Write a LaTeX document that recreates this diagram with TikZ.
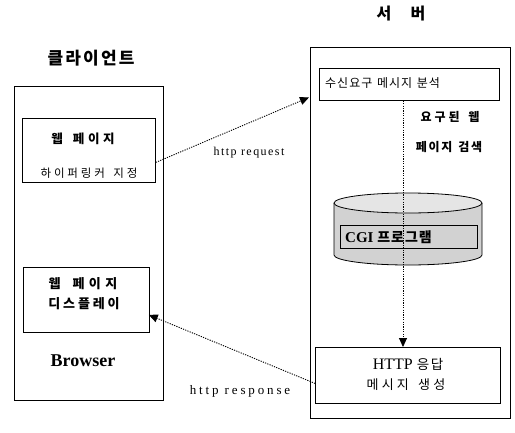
\documentclass[tikz,border=0pt]{standalone}
\usepackage{fontspec}
\setmainfont{Liberation Serif}
\newfontfamily\kr{Noto Sans CJK KR}
\usetikzlibrary{arrows.meta,calc}
\newdimen\spgap
\def\spc#1{\spcloop#1\relax\unkern}
\def\spcloop#1{\ifx#1\relax\else#1\kern\spgap\expandafter\spcloop\fi}
\newcommand{\ksz}[2]{\kr\fontsize{#1}{#1}\selectfont\spgap=#2pt\relax}
\begin{document}
\begin{tikzpicture}[x=1pt,y=-1pt,
  box/.style={draw,line width=0.8pt,anchor=north west,inner sep=0pt},
  txt/.style={inner sep=0pt},
  ktext/.style={inner sep=0pt},
  dotline/.style={line width=0.9pt,dash pattern=on 1.2pt off 1.2pt},
  arr/.style={-{Triangle[length=9pt,width=8pt]}}]
\useasboundingbox (0,0) rectangle (515,432);
% titles
\node[ktext,font=\ksz{17}{2.2}\bfseries] (tc) at (91,58) {\spc{클라이언트}};
\node[ktext,font=\ksz{16}{0}\bfseries] (ts) at (401,14) {서\hspace{1.2em}버};
% client
\node[box,minimum width=149pt,minimum height=314pt] (client) at (14,86) {};
\node[box,minimum width=133pt,minimum height=64pt] (box1) at (22,118) {};
\node[ktext,font=\ksz{12.5}{3.6}\bfseries] (b1a) at (83,139) {\spc{웹~페이지}};
\node[ktext,font=\ksz{11.5}{2.9}] (b1b) at (89,173) {\spc{하이퍼링커~지정}};
\node[box,minimum width=126pt,minimum height=65pt] (box2) at (23,267) {};
\node[ktext,font=\ksz{13}{4.5}\bfseries] (b2a) at (83,284) {\spc{웹~페이지}};
\node[ktext,font=\ksz{13}{2.9}\bfseries] (b2b) at (84,304) {\spc{디스플레이}};
\node[txt,font=\bfseries\fontsize{18}{20}\selectfont] (brw) at (83,361) {Browser};
% server
\node[box,minimum width=200pt,minimum height=371pt] (server) at (310,47) {};
\node[box,minimum width=180pt,minimum height=32pt] (recv) at (319,68) {};
\node[ktext,anchor=west,font=\ksz{12}{1}] (recvt) at (325,83) {\spc{수신요구~메시지~분석}};
\node[ktext,font=\ksz{12}{3}\bfseries] (q1) at (450,117) {\spc{요구된~웹}};
\node[ktext,font=\ksz{12}{1.7}\bfseries] (q2) at (449,147) {\spc{페이지~검색}};
% cylinder
\fill[gray!35] (334,203) -- (334,255) arc[start angle=180,end angle=360,x radius=74,y radius=-10] -- (482,203) arc[start angle=0,end angle=180,x radius=74,y radius=10] -- cycle;
\draw[line width=0.8pt] (334,203) -- (334,255) arc[start angle=180,end angle=360,x radius=74,y radius=-10] -- (482,203);
\draw[line width=0.8pt,fill=gray!20] (408,203) ellipse[x radius=74,y radius=10];
\node[box,minimum width=137pt,minimum height=23pt,fill=gray!35] (cgi) at (340,225) {};
\node[txt,anchor=west,font=\bfseries\fontsize{15}{16}\selectfont] (cgit) at (345,237) {CGI {\ksz{14}{1}\bfseries\spc{프로그램}}};
% http box
\node[box,minimum width=185pt,minimum height=56pt] (http) at (315,347) {};
\node[txt,font=\fontsize{16}{18}\selectfont] (h1) at (408,364) {HTTP {\ksz{13.5}{1.5}\spc{응답}}};
\node[ktext,font=\ksz{13}{3.2}] (h2) at (406,385) {\spc{메시지~생성}};
% vertical dashed
\coordinate (vx) at (403,0);
\draw[dotline,arr] (vx |- recv.south) -- (vx |- http.north);
% request
\coordinate (reqs) at ($(box1.east)+(0,12)$);
\coordinate (reqe) at ($(recv.west)+(-10,13)$);
\draw[dotline,arr] (reqs) -- (reqe);
\node[txt,font=\addfontfeatures{LetterSpace=12}\fontsize{12}{14}\selectfont] (lreq) at (249,153) {http request};
% response
\coordinate (ress) at ($(http.west)+(0,8)$);
\coordinate (rese) at ($(box2.east)+(-1,15)$);
\draw[dotline,arr] (ress) -- (rese);
\node[txt,font=\addfontfeatures{LetterSpace=22}\fontsize{13}{14}\selectfont] (lres) at (240,391) {http response};
\end{tikzpicture}
\end{document}
